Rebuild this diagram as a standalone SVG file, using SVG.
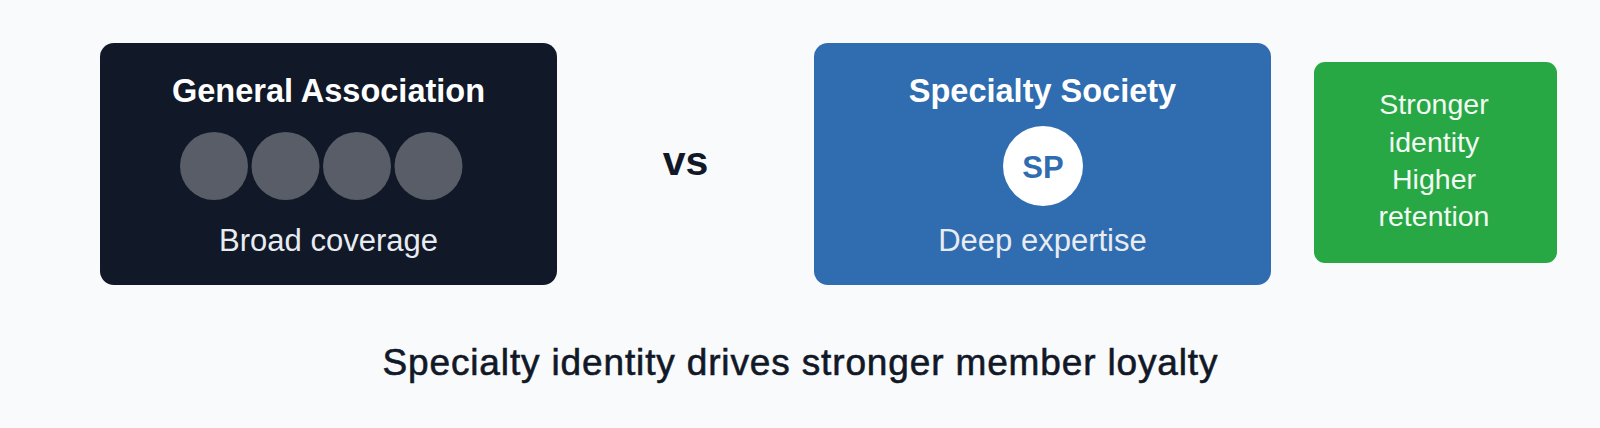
<svg xmlns="http://www.w3.org/2000/svg" width="1600" height="428" viewBox="0 0 1600 428">
  <style>
    .t { font-family: "Liberation Sans", Arial, Helvetica, sans-serif; text-anchor: middle; }
    .title { font-size: 32.5px; font-weight: bold; fill: #ffffff; }
    .sub { font-size: 31px; fill: #e8ecf2; }
    .dot { fill: #ffffff; fill-opacity: 0.3; }
    .green { font-size: 28.5px; fill: #f2fbf3; }
  </style>
  <rect x="0" y="0" width="1600" height="428" fill="#f9fafb"/>

  <g id="general-association">
    <rect x="100" y="43" width="457" height="242" rx="14" fill="#111827"/>
    <text class="t title" x="328.5" y="102">General Association</text>
    <circle class="dot" cx="214" cy="166" r="34"/>
    <circle class="dot" cx="285.5" cy="166" r="34"/>
    <circle class="dot" cx="357" cy="166" r="34"/>
    <circle class="dot" cx="428.5" cy="166" r="34"/>
    <text class="t sub" x="328.5" y="251">Broad coverage</text>
  </g>

  <g id="vs">
    <text class="t" x="685.5" y="175" font-size="41" font-weight="bold" fill="#111827">vs</text>
  </g>

  <g id="specialty-society">
    <rect x="814" y="43" width="457" height="242" rx="14" fill="#2f6cb0"/>
    <text class="t title" x="1042.5" y="102">Specialty Society</text>
    <circle cx="1043" cy="166" r="40" fill="#ffffff"/>
    <text class="t" x="1043" y="178" font-size="31" font-weight="bold" fill="#2f6cb0">SP</text>
    <text class="t sub" x="1042.5" y="251">Deep expertise</text>
  </g>

  <g id="outcome">
    <rect x="1314" y="62" width="243" height="201" rx="11" fill="#28a745"/>
    <text class="t green" x="1434" y="114">Stronger</text>
    <text class="t green" x="1434" y="151.5">identity</text>
    <text class="t green" x="1434" y="189">Higher</text>
    <text class="t green" x="1434" y="226">retention</text>
  </g>

  <g id="connectors"></g>

  <g id="caption">
    <text class="t" x="800" y="375" font-size="37" fill="#111827" stroke="#111827" stroke-width="0.6" textLength="835" lengthAdjust="spacing">Specialty identity drives stronger member loyalty</text>
  </g>
</svg>
